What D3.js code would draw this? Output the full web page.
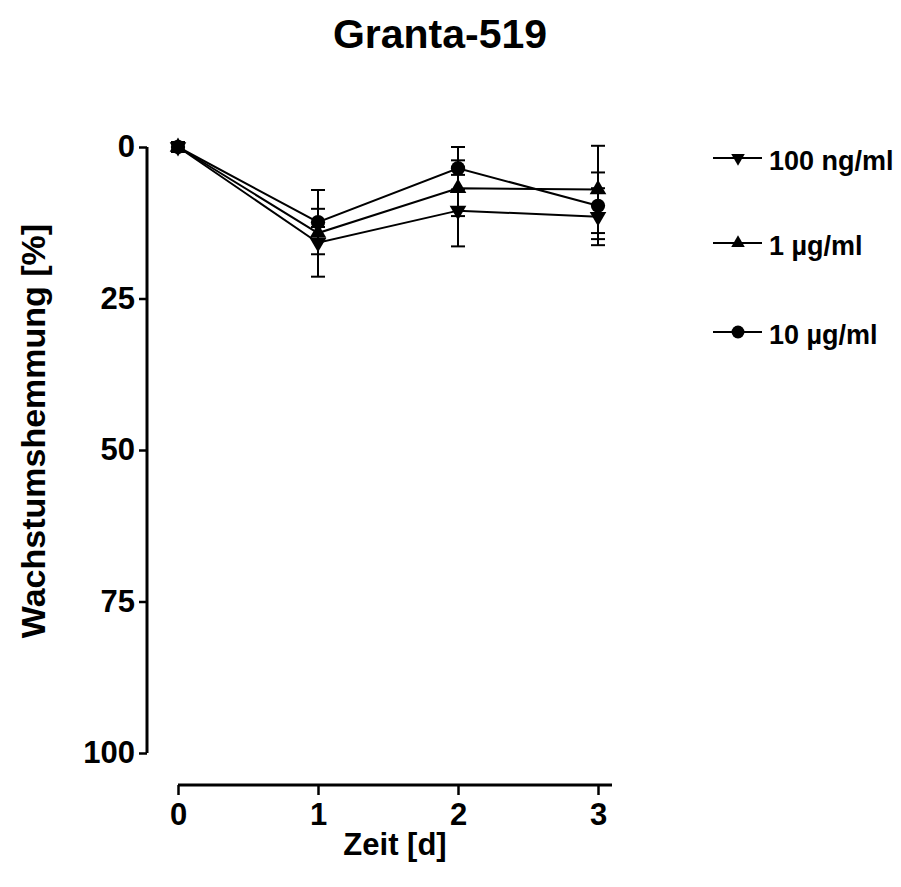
<!DOCTYPE html>
<html>
<head>
<meta charset="utf-8">
<script src="https://cdn.jsdelivr.net/npm/d3@7"></script>
<style>
  html, body { margin: 0; padding: 0; background: #fff; }
  svg { display: block; }
  text { font-family: "Liberation Sans", Arial, Helvetica, sans-serif; font-weight: bold; fill: #000; }
</style>
</head>
<body>
<svg id="chart" width="901" height="887"></svg>
<script>
// Time points (days) and growth inhibition (%) per concentration, mean and SD
const days = [0, 1, 2, 3];
const dayTicks = [0, 1, 2, 3];
const inhibitionTicks = [0, 25, 50, 75, 100];

const seriesNames = ["100 ng/ml", "1 µg/ml", "10 µg/ml"];
const ng100Mean = [0, 15.8, 10.5, 11.5];
const ng100Sd   = [0.8, 5.6, 5.9, 4.7];
const ug1Mean   = [0, 14.2, 6.8, 7.0];
const ug1Sd     = [0.8, 1.0, 4.6, 7.2];
const ug10Mean  = [0, 12.4, 3.5, 9.7];
const ug10Sd    = [0.8, 5.3, 3.5, 5.5];

const series = [
  { name: seriesNames[0], mean: ng100Mean, sd: ng100Sd, symbol: "down" },
  { name: seriesNames[1], mean: ug1Mean,   sd: ug1Sd,   symbol: "up" },
  { name: seriesNames[2], mean: ug10Mean,  sd: ug10Sd,  symbol: "circle" }
];

const svg = d3.select("#chart");

// Inverted y axis: 0 at the top, 100 at the bottom
const y = d3.scaleLinear().domain([0, 100]).range([147, 753]);
const x = d3.scaleLinear().domain([0, 3]).range([178, 598]);
const xAxisY = 785;
const yAxisX = 147;

// Title
svg.append("text")
  .attr("x", 440).attr("y", 48)
  .attr("text-anchor", "middle")
  .style("font-size", "41px")
  .text("Granta-519");

function styleTickText(sel) {
  sel.style("font-size", "31px")
    .style("font-family", "'Liberation Sans', Arial, sans-serif")
    .style("font-weight", "bold")
    .attr("fill", "#000");
}

// Y axis
const yAxis = d3.axisLeft(y).tickValues(inhibitionTicks).tickFormat(d3.format("d")).tickSize(8).tickPadding(4);
const gy = svg.append("g").attr("transform", `translate(${yAxisX},0)`).call(yAxis);
gy.select(".domain").attr("stroke", "#000").attr("stroke-width", 3).attr("d", `M0,${y(0)}V${y(100)}`);
gy.selectAll(".tick line").attr("stroke", "#000").attr("stroke-width", 2.5);
gy.selectAll(".tick text").call(styleTickText);

// X axis, slightly offset below the plot area
const xAxis = d3.axisBottom(x).tickValues(dayTicks).tickFormat(d3.format("d")).tickSize(10).tickPadding(8);
const gx = svg.append("g").attr("transform", `translate(0,${xAxisY})`).call(xAxis);
gx.select(".domain").attr("stroke", "#000").attr("stroke-width", 3).attr("d", `M${x(0)},0H${x(3.1)}`);
gx.selectAll(".tick line").attr("stroke", "#000").attr("stroke-width", 2.5);
gx.selectAll(".tick text").call(styleTickText);

// Axis titles
svg.append("text")
  .attr("transform", `translate(45,${431}) rotate(-90)`)
  .attr("text-anchor", "middle")
  .style("font-size", "34px")
  .text("Wachstumshemmung [%]");

svg.append("text")
  .attr("x", 395).attr("y", 855)
  .attr("text-anchor", "middle")
  .style("font-size", "31px")
  .text("Zeit [d]");

// Marker shapes
function markerPath(kind, size) {
  if (kind === "circle") return d3.symbol().type(d3.symbolCircle).size(size)();
  return d3.symbol().type(d3.symbolTriangle).size(size)();
}
function markerTransform(kind, px, py) {
  return kind === "down" ? `translate(${px},${py}) rotate(180)` : `translate(${px},${py})`;
}

const line = d3.line().x((d, i) => x(days[i])).y(d => y(d));
const plot = svg.append("g");

// Connecting lines
series.forEach(s => {
  plot.append("path")
    .attr("d", line(s.mean))
    .attr("fill", "none")
    .attr("stroke", "#000")
    .attr("stroke-width", 2);
});

// Error bars (mean ± SD)
const capHalf = 7;
series.forEach(s => {
  const g = plot.append("g").attr("stroke", "#000").attr("stroke-width", 2);
  s.mean.forEach((m, i) => {
    const px = x(days[i]);
    const lo = y(m - s.sd[i]), hi = y(m + s.sd[i]);
    g.append("line").attr("x1", px).attr("x2", px).attr("y1", lo).attr("y2", hi);
    g.append("line").attr("x1", px - capHalf).attr("x2", px + capHalf).attr("y1", lo).attr("y2", lo);
    g.append("line").attr("x1", px - capHalf).attr("x2", px + capHalf).attr("y1", hi).attr("y2", hi);
  });
});

// Markers
series.forEach(s => {
  const size = s.symbol === "circle" ? 160 : 120;
  s.mean.forEach((m, i) => {
    plot.append("path")
      .attr("d", markerPath(s.symbol, size))
      .attr("transform", markerTransform(s.symbol, x(days[i]), y(m)))
      .attr("fill", "#000");
  });
});

// Legend
const legendRows = [158, 243, 332];
series.forEach((s, i) => {
  const ly = legendRows[i];
  const g = svg.append("g");
  g.append("line").attr("x1", 713).attr("x2", 762).attr("y1", ly).attr("y2", ly)
    .attr("stroke", "#000").attr("stroke-width", 2);
  const size = s.symbol === "circle" ? 130 : 80;
  g.append("path")
    .attr("d", markerPath(s.symbol, size))
    .attr("transform", markerTransform(s.symbol, 738, ly))
    .attr("fill", "#000");
  g.append("text")
    .attr("x", 769).attr("y", ly + 12)
    .style("font-size", "27px")
    .text(s.name);
});
</script>
</body>
</html>
